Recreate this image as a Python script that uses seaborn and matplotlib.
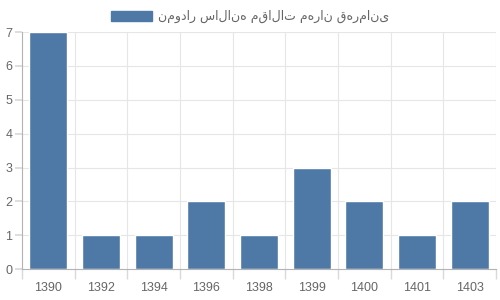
import matplotlib
matplotlib.use("Agg")
import matplotlib.pyplot as plt
import seaborn as sns
import pandas as pd
from matplotlib.patches import Patch

years = ["1390", "1392", "1394", "1396", "1398", "1399", "1400", "1401", "1403"]
counts = [7, 1, 1, 2, 1, 3, 2, 1, 2]
legend_label = "نمودار سالانه مقالات مهران قهرمانی"

sns.set_theme(style="white")
plt.rcParams['font.family'] = ['Liberation Sans', 'DejaVu Sans']

df = pd.DataFrame({"year": years, "count": counts})
fig = plt.figure(figsize=(5, 3), dpi=100)
ax = fig.add_axes([0.044, 0.103, 0.948, 0.79])
color = "#4e79a7"
sns.barplot(data=df, x="year", y="count", color=color, width=0.72, saturation=1, ax=ax)

n = len(years)
ax.set_xlim(-0.5, n - 0.5)
ax.set_ylim(0, 7)
ax.set_yticks(range(0, 8))
ax.set_xlabel("")
ax.set_ylabel("")
# grid at category boundaries
for b in [i + 0.5 for i in range(n)]:
    ax.axvline(b, color="#e6e6e6", lw=0.8, zorder=0)
for y in range(1, 8):
    ax.axhline(y, color="#e6e6e6", lw=0.8, zorder=0)
ax.set_axisbelow(True)
for s in ["top", "right"]:
    ax.spines[s].set_visible(False)
for s in ["left", "bottom"]:
    ax.spines[s].set_color("#b3b3b3")
    ax.spines[s].set_linewidth(0.8)
ax.tick_params(axis="x", length=0, colors="#666666", labelsize=9, pad=9)
ax.tick_params(axis="y", length=5, color="#d9d9d9", colors="#666666", labelsize=9, pad=2)
ax.tick_params(axis="y", left=True)
# x boundary tick marks
ax.set_xticks([i - 0.5 for i in range(n + 1)], minor=True)
ax.tick_params(axis="x", which="minor", length=7, color="#d9d9d9", bottom=True)

handle = Patch(facecolor=color, edgecolor=color)
leg = fig.legend([handle], [legend_label], loc="upper center", bbox_to_anchor=(0.5, 1.0),
                 frameon=False, fontsize=9, handlelength=3.3, handleheight=0.9,
                 handletextpad=0.5, borderaxespad=0.4,
                 prop={'family': ['DejaVu Sans'], 'size': 9})
for t in leg.get_texts():
    t.set_color("#666666")

fig.savefig("out.png", dpi=100)
